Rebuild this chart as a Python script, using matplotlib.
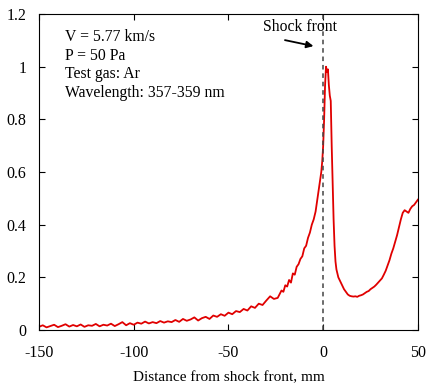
import matplotlib
matplotlib.use('Agg')
from matplotlib import pyplot

pyplot.rcParams['font.family'] = ['Liberation Serif', 'DejaVu Serif']
pyplot.rcParams['axes.unicode_minus'] = False

# distance from shock front (mm) and normalized intensity
dist = [-150, -148, -146, -144, -142, -140, -138, -136, -134, -132, -130, -128, -126, -124, -122,
        -120, -118, -116, -114, -112, -110, -108, -106, -104, -102, -100, -98, -96, -94, -92,
        -90, -88, -86, -84, -82, -80, -78, -76, -74, -72, -70, -68, -66, -64, -62,
        -60, -58, -56, -54, -52, -50, -48, -46, -44, -42, -40, -38, -36, -34, -32,
        -30, -28, -26, -24, -22, -21, -20, -19, -18, -17, -16, -15, -14, -13, -12,
        -11, -10, -9, -8, -7, -6, -5, -4, -3, -2, -1, -0.5, 0, 0.5, 1.0,
        1.5, 2.0, 2.5, 3.0, 3.5, 4.0, 4.5, 5.0, 5.5, 6.0, 6.5, 7, 8, 9, 10,
        11, 12, 13, 14, 15, 16, 17, 18, 19, 20, 21, 22, 23, 24, 25,
        26, 27, 28, 29, 30, 31, 32, 33, 34, 35, 36, 37, 38, 39, 40,
        41, 42, 43, 44, 45, 46, 47, 48, 49, 50]
intensity = [0.012, 0.018, 0.010, 0.015, 0.020, 0.011, 0.016, 0.022, 0.013, 0.019, 0.014, 0.021, 0.012, 0.018, 0.016,
             0.023, 0.014, 0.020, 0.017, 0.024, 0.015, 0.022, 0.030, 0.018, 0.026, 0.020, 0.028, 0.024, 0.032, 0.025,
             0.030, 0.026, 0.034, 0.028, 0.033, 0.030, 0.038, 0.031, 0.042, 0.035, 0.040, 0.048, 0.036, 0.045, 0.050,
             0.042, 0.055, 0.050, 0.060, 0.054, 0.066, 0.060, 0.072, 0.068, 0.080, 0.074, 0.090, 0.084, 0.100, 0.095,
             0.112, 0.128, 0.118, 0.122, 0.150, 0.145, 0.170, 0.165, 0.190, 0.180, 0.215, 0.210, 0.240, 0.250, 0.270,
             0.280, 0.310, 0.320, 0.350, 0.370, 0.400, 0.420, 0.450, 0.500, 0.550, 0.600, 0.640, 0.700, 0.800, 0.930,
             1.000, 0.980, 0.990, 0.930, 0.890, 0.870, 0.700, 0.560, 0.420, 0.320, 0.260, 0.230, 0.200, 0.185, 0.170,
             0.155, 0.145, 0.135, 0.130, 0.128, 0.127, 0.128, 0.126, 0.130, 0.132, 0.135, 0.140, 0.145, 0.148, 0.155,
             0.160, 0.165, 0.172, 0.180, 0.188, 0.196, 0.210, 0.225, 0.245, 0.265, 0.290, 0.310, 0.335, 0.360, 0.390,
             0.420, 0.445, 0.455, 0.450, 0.445, 0.460, 0.470, 0.475, 0.485, 0.495]

x_ticks = [-150, -100, -50, 0, 50]
y_ticks = [0, 0.2, 0.4, 0.6, 0.8, 1, 1.2]
y_ticklabels = ['0', '0.2', '0.4', '0.6', '0.8', '1', '1.2']
info = "V = 5.77 km/s\nP = 50 Pa\nTest gas: Ar\nWavelength: 357-359 nm"

fig = pyplot.figure(figsize=(4.26, 3.84), dpi=100)
ax = fig.add_axes([0.0915, 0.1406, 0.8895, 0.8229])

ax.plot(dist, intensity, color='#e00000', lw=1.3)
ax.axvline(0, color='#444444', lw=1.1, ls=(0, (3, 2.5)))

ax.set_xlim(-150, 50)
ax.set_ylim(0, 1.2)
ax.set_xticks(x_ticks)
ax.set_yticks(y_ticks)
ax.set_yticklabels(y_ticklabels)
ax.tick_params(direction='in', top=True, right=True, labelsize=11.5, length=4)
ax.tick_params(axis='x', pad=11)
ax.tick_params(axis='y', pad=9)
ax.set_xlabel('Distance from shock front, mm', fontsize=11, labelpad=7)

ax.text(0.068, 0.952, info, transform=ax.transAxes, fontsize=11.3, va='top', linespacing=1.22)
ax.text(-12, 1.152, 'Shock front', ha='center', va='center', fontsize=11.3)
ax.annotate('', xy=(-3.7, 1.076), xytext=(-21.6, 1.103),
            arrowprops=dict(arrowstyle='-|>', color='black', lw=1.3, mutation_scale=10))

pyplot.savefig('out.png', dpi=100)
